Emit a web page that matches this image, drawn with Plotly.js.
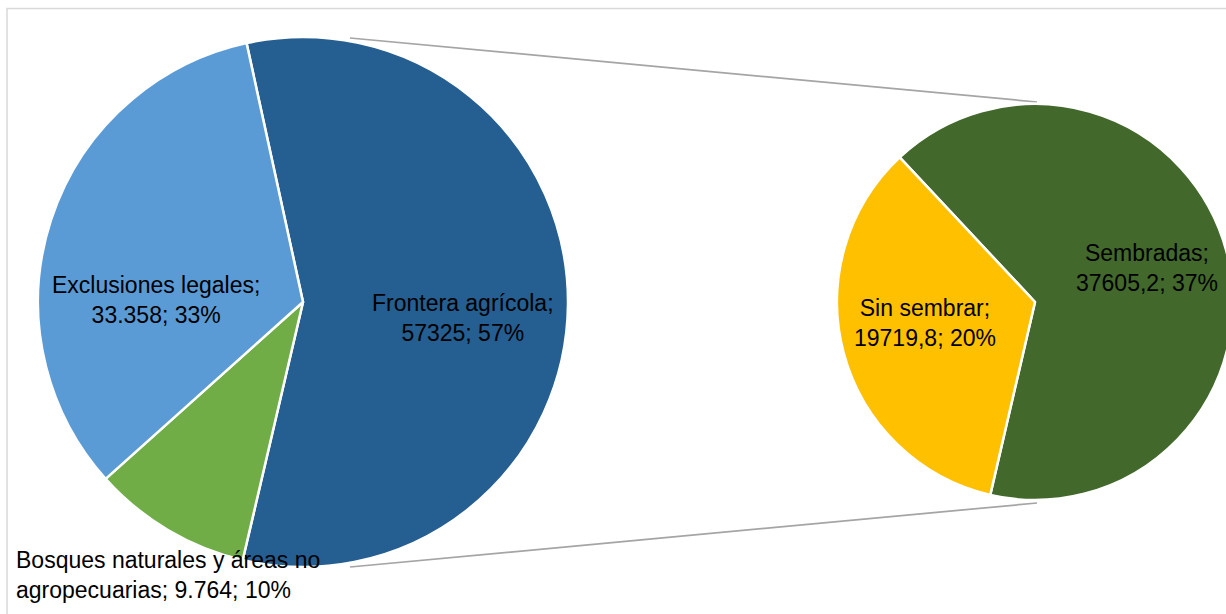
<!DOCTYPE html>
<html>
<head>
<meta charset="utf-8">
<script src="https://cdn.plot.ly/plotly-3.0.1.min.js"></script>
<style>
html,body{margin:0;padding:0;overflow:hidden;background:#fff;}
#chart{width:1240px;height:620px;}
</style>
</head>
<body>
<div id="chart"></div>
<script>
// ---- data ----
const mainLabels = ['Frontera agrícola', 'Bosques naturales y áreas no agropecuarias', 'Exclusiones legales'];
const mainValues = [57325, 9764, 33358];
const mainValueText = ['57325', '9.764', '33.358'];
const subLabels = ['Sembradas', 'Sin sembrar'];
const subValues = [37605.2, 19719.8];
const subValueText = ['37605,2', '19719,8'];

const mainColors = ['#255E91', '#70AD47', '#5B9BD5'];
const subColors = ['#43682B', '#FFC000'];

const W = 1240, H = 620;
const total = mainValues.reduce((a, b) => a + b, 0);
const pct = v => Math.round(v / total * 100) + '%';

// geometry in pixels (from the top-left)
const L = {cx: 303, cy: 302, r: 265};
const R = {cx: 1035, cy: 302, r: 198};
const px = x => x / W;
const py = y => 1 - y / H;

const traces = [
  {
    type: 'pie', labels: mainLabels, values: mainValues, sort: false,
    direction: 'clockwise', rotation: -12.3,
    marker: {colors: mainColors, line: {color: '#FFFFFF', width: 2.5}},
    textinfo: 'none', hoverinfo: 'none', showlegend: false,
    domain: {x: [px(L.cx - L.r), px(L.cx + L.r)], y: [py(L.cy + L.r), py(L.cy - L.r)]}
  },
  {
    type: 'pie', labels: subLabels, values: subValues, sort: false,
    direction: 'clockwise', rotation: -43.1,
    marker: {colors: subColors, line: {color: '#FFFFFF', width: 2.5}},
    textinfo: 'none', hoverinfo: 'none', showlegend: false,
    domain: {x: [px(R.cx - R.r), px(R.cx + R.r)], y: [py(R.cy + R.r), py(R.cy - R.r)]}
  }
];

const font = {family: 'Liberation Sans, Arial, sans-serif', size: 23, color: '#000000'};
const ann = (text, x, y, xanchor) => ({
  text: text, x: px(x), y: py(y), xref: 'paper', yref: 'paper',
  xanchor: xanchor || 'center', yanchor: 'middle', align: xanchor === 'left' ? 'left' : 'center',
  showarrow: false, font: font
});

const annotations = [
  ann(mainLabels[0] + ';<br>' + mainValueText[0] + '; ' + pct(mainValues[0]), 463, 318),
  ann(mainLabels[2] + ';<br>' + mainValueText[2] + '; ' + pct(mainValues[2]), 156, 300),
  ann('Bosques naturales y áreas no<br>agropecuarias; ' + mainValueText[1] + '; ' + pct(mainValues[1]), 14, 575, 'left'),
  ann(subLabels[0] + ';<br>' + subValueText[0] + '; ' + pct(subValues[0]), 1147, 268),
  ann(subLabels[1] + ';<br>' + subValueText[1] + '; ' + pct(subValues[1]), 925, 323)
];

const shapes = [
  {type: 'rect', xref: 'paper', yref: 'paper', x0: px(7), x1: px(1300), y0: py(8.5), y1: py(700),
   line: {color: '#D9D9D9', width: 1.5}, fillcolor: 'rgba(0,0,0,0)', layer: 'below'},
  {type: 'line', xref: 'paper', yref: 'paper', x0: px(350), y0: py(38), x1: px(1037), y1: py(102),
   line: {color: '#A5A5A5', width: 1.75}, layer: 'below'},
  {type: 'line', xref: 'paper', yref: 'paper', x0: px(350), y0: py(567), x1: px(1037), y1: py(503),
   line: {color: '#A5A5A5', width: 1.75}, layer: 'below'}
];

const layout = {
  width: W, height: H,
  margin: {l: 0, r: 0, t: 0, b: 0},
  paper_bgcolor: '#FFFFFF', plot_bgcolor: '#FFFFFF',
  showlegend: false,
  annotations: annotations,
  shapes: shapes
};

Plotly.newPlot('chart', traces, layout, {displayModeBar: false, staticPlot: true});
</script>
</body>
</html>
